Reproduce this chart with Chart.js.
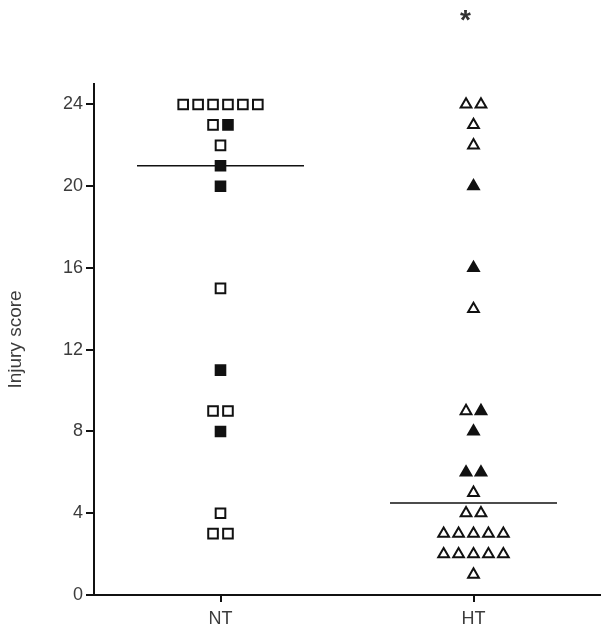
<!DOCTYPE html>
<html>
<head>
<meta charset="utf-8">
<script src="https://cdn.jsdelivr.net/npm/chart.js@4"></script>
<style>
  html, body { margin: 0; padding: 0; background: #fff; }
  #wrap { width: 611px; height: 636px; }
</style>
</head>
<body>
<div id="wrap"><canvas id="chart" width="611" height="636"></canvas></div>
<script>
// Injury scores per group, split by marker fill (open / filled)
const groups = ["NT", "HT"];
const ntOpen = [24, 24, 24, 24, 24, 24, 23, 22, 15, 9, 9, 4, 3, 3];
const ntFilled = [23, 21, 20, 11, 8];
const htOpen = [24, 24, 23, 22, 14, 9, 5, 4, 4, 3, 3, 3, 3, 3, 2, 2, 2, 2, 2, 1];
const htFilled = [20, 16, 9, 8, 6, 6];
const medians = [21, 4.5];
const yTicks = [0, 4, 8, 12, 16, 20, 24];
const sigMark = "*";

const INK = "#111";
const TEXT = "#3c3c3c";
const FONT = '"Liberation Sans", Arial, sans-serif';
const STEP = 0.059; // horizontal gap between tied points, in x units

// spread tied values side by side (open markers first, then filled)
function layout(groupIdx, open, filled) {
  const rows = {};
  open.forEach((v) => (rows[v] = rows[v] || []).push("open"));
  filled.forEach((v) => (rows[v] = rows[v] || []).push("filled"));
  const out = { open: [], filled: [] };
  Object.keys(rows).forEach((k) => {
    const row = rows[k];
    row.forEach((kind, i) => {
      const dx = (i - (row.length - 1) / 2) * STEP;
      out[kind].push({ x: groupIdx + 1 + dx, y: Number(k) });
    });
  });
  return out;
}

const nt = layout(0, ntOpen, ntFilled);
const ht = layout(1, htOpen, htFilled);

function markers(data, style, fill, radius) {
  return {
    type: "scatter",
    data: data,
    pointStyle: style,
    pointRadius: radius,
    pointHoverRadius: radius,
    pointBackgroundColor: fill,
    pointBorderColor: INK,
    pointBorderWidth: 2,
    clip: false,
  };
}

function medianLine(i) {
  return {
    type: "line",
    data: [
      { x: i + 1 - 0.33, y: medians[i] },
      { x: i + 1 + 0.33, y: medians[i] },
    ],
    borderColor: INK,
    borderWidth: 1.6,
    pointRadius: 0,
    fill: false,
  };
}

const sigPlugin = {
  id: "sig",
  afterDraw(chart) {
    const ctx = chart.ctx;
    const x = chart.scales.x.getPixelForValue(2) - 8;
    ctx.save();
    ctx.font = "bold 28px " + FONT;
    ctx.fillStyle = "#333";
    ctx.textAlign = "center";
    ctx.textBaseline = "alphabetic";
    ctx.fillText(sigMark, x, 29);
    ctx.restore();
  },
};

new Chart(document.getElementById("chart"), {
  type: "scatter",
  data: {
    datasets: [
      markers(nt.open, "rect", "#fff", 6.8),
      markers(nt.filled, "rect", INK, 6.8),
      markers(ht.open, "triangle", "#fff", 6.2),
      markers(ht.filled, "triangle", INK, 6.2),
      medianLine(0),
      medianLine(1),
    ],
  },
  options: {
    responsive: false,
    animation: false,
    devicePixelRatio: 1,
    layout: { padding: { top: 84, right: 11, bottom: 0, left: 0 } },
    plugins: { legend: { display: false }, tooltip: { enabled: false } },
    scales: {
      x: {
        type: "linear",
        min: 0.5,
        max: 2.5,
        afterBuildTicks: (s) => {
          s.ticks = groups.map((g, i) => ({ value: i + 1 }));
        },
        afterFit: (s) => {
          s.height = 41;
        },
        ticks: {
          callback: (v) => groups[v - 1],
          font: { family: FONT, size: 18 },
          color: TEXT,
          padding: 6,
          maxRotation: 0,
        },
        grid: { drawOnChartArea: false, drawTicks: true, tickLength: 7, color: INK, lineWidth: 2 },
        border: { display: true, color: INK, width: 2 },
      },
      y: {
        min: 0,
        max: 25,
        afterBuildTicks: (s) => {
          s.ticks = yTicks.map((v) => ({ value: v }));
        },
        afterFit: (s) => {
          s.width = 94;
        },
        ticks: {
          font: { family: FONT, size: 18 },
          color: TEXT,
          padding: 3,
        },
        title: {
          display: true,
          text: "Injury score",
          font: { family: FONT, size: 19 },
          color: TEXT,
          padding: { top: 4, bottom: 0 },
        },
        grid: { drawOnChartArea: false, drawTicks: true, tickLength: 8, color: INK, lineWidth: 2 },
        border: { display: true, color: INK, width: 2 },
      },
    },
  },
  plugins: [sigPlugin],
});
</script>
</body>
</html>
